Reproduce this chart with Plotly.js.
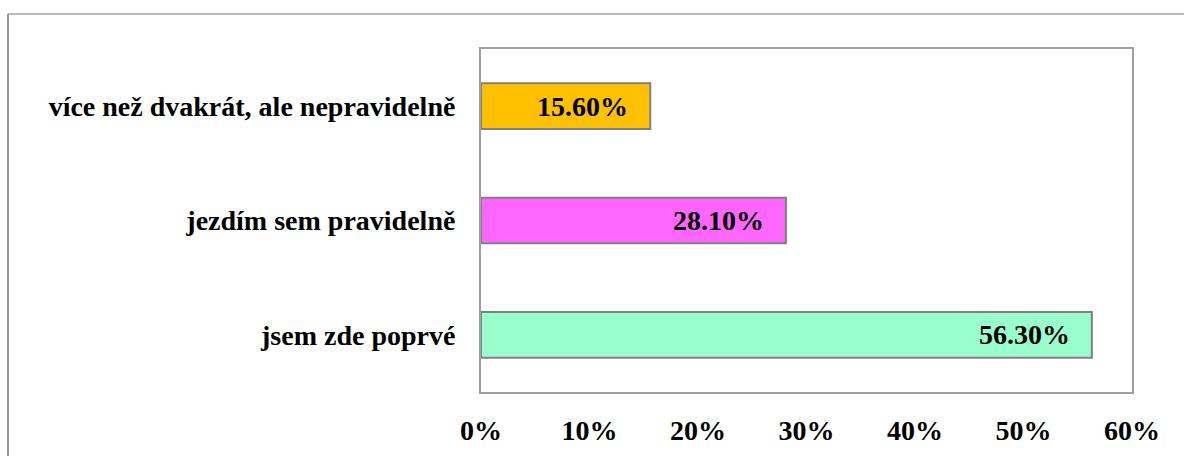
<!DOCTYPE html>
<html>
<head>
<meta charset="utf-8">
<script src="https://cdn.plot.ly/plotly-3.0.1.min.js"></script>
<style>
  html, body { margin: 0; padding: 0; background: #fff; }
  #chart { width: 1184px; height: 456px; }
</style>
</head>
<body>
<div id="chart"></div>
<script>
const categories = ["jsem zde poprvé", "jezdím sem pravidelně", "více než dvakrát, ale nepravidelně"];
const values = [56.3, 28.1, 15.6];
const barColors = ["#99FFCC", "#FF66FF", "#FFC000"];
const tickValues = [0, 10, 20, 30, 40, 50, 60];
const tickLabels = ["0%", "10%", "20%", "30%", "40%", "50%", "60%"];

const font = "'Liberation Serif', 'Times New Roman', serif";

const trace = {
  type: "bar",
  orientation: "h",
  y: categories,
  x: values,
  width: 0.4,
  marker: { color: barColors, line: { color: "#808080", width: 2 } },
  hoverinfo: "none"
};

const annotations = values.map((v, i) => ({
  x: v, y: categories[i], xref: "x", yref: "y",
  text: v.toFixed(2) + "%",
  showarrow: false, xanchor: "right", yanchor: "middle",
  xshift: -20,
  font: { family: font, size: 28, color: "#000", weight: "bold" }
}));

const layout = {
  width: 1184, height: 456,
  margin: { l: 481, r: 52, t: 49, b: 64 },
  paper_bgcolor: "#fff", plot_bgcolor: "#fff",
  showlegend: false,
  font: { family: font, color: "#000" },
  xaxis: {
    range: [0, 60],
    tickvals: tickValues, ticktext: tickLabels,
    showgrid: false, zeroline: false,
    showline: true, mirror: true, linecolor: "#a0a0a0", linewidth: 2,
    ticks: "", ticklen: 0, ticklabelstandoff: 12,
    tickfont: { family: font, size: 28, color: "#000", weight: "bold" },
    automargin: false
  },
  yaxis: {
    categoryorder: "array", categoryarray: categories,
    showgrid: false, zeroline: false,
    showline: true, mirror: true, linecolor: "#a0a0a0", linewidth: 2,
    ticks: "", ticklabelstandoff: 18,
    tickfont: { family: font, size: 28, color: "#000", weight: "bold" },
    automargin: false
  },
  annotations: annotations,
  shapes: [
    { type: "line", xref: "paper", yref: "paper",
      x0: (8 - 481) / 651, x1: (1184 - 481) / 651,
      y0: (456 - 64 - 14) / 343, y1: (456 - 64 - 14) / 343,
      line: { color: "#bbbbbb", width: 2 } },
    { type: "line", xref: "paper", yref: "paper",
      x0: (8 - 481) / 651, x1: (8 - 481) / 651,
      y0: (456 - 64 - 14) / 343, y1: (456 - 64 - 460) / 343,
      line: { color: "#999999", width: 2 } }
  ]
};

Plotly.newPlot("chart", [trace], layout, { staticPlot: true, displayModeBar: false });
</script>
</body>
</html>
